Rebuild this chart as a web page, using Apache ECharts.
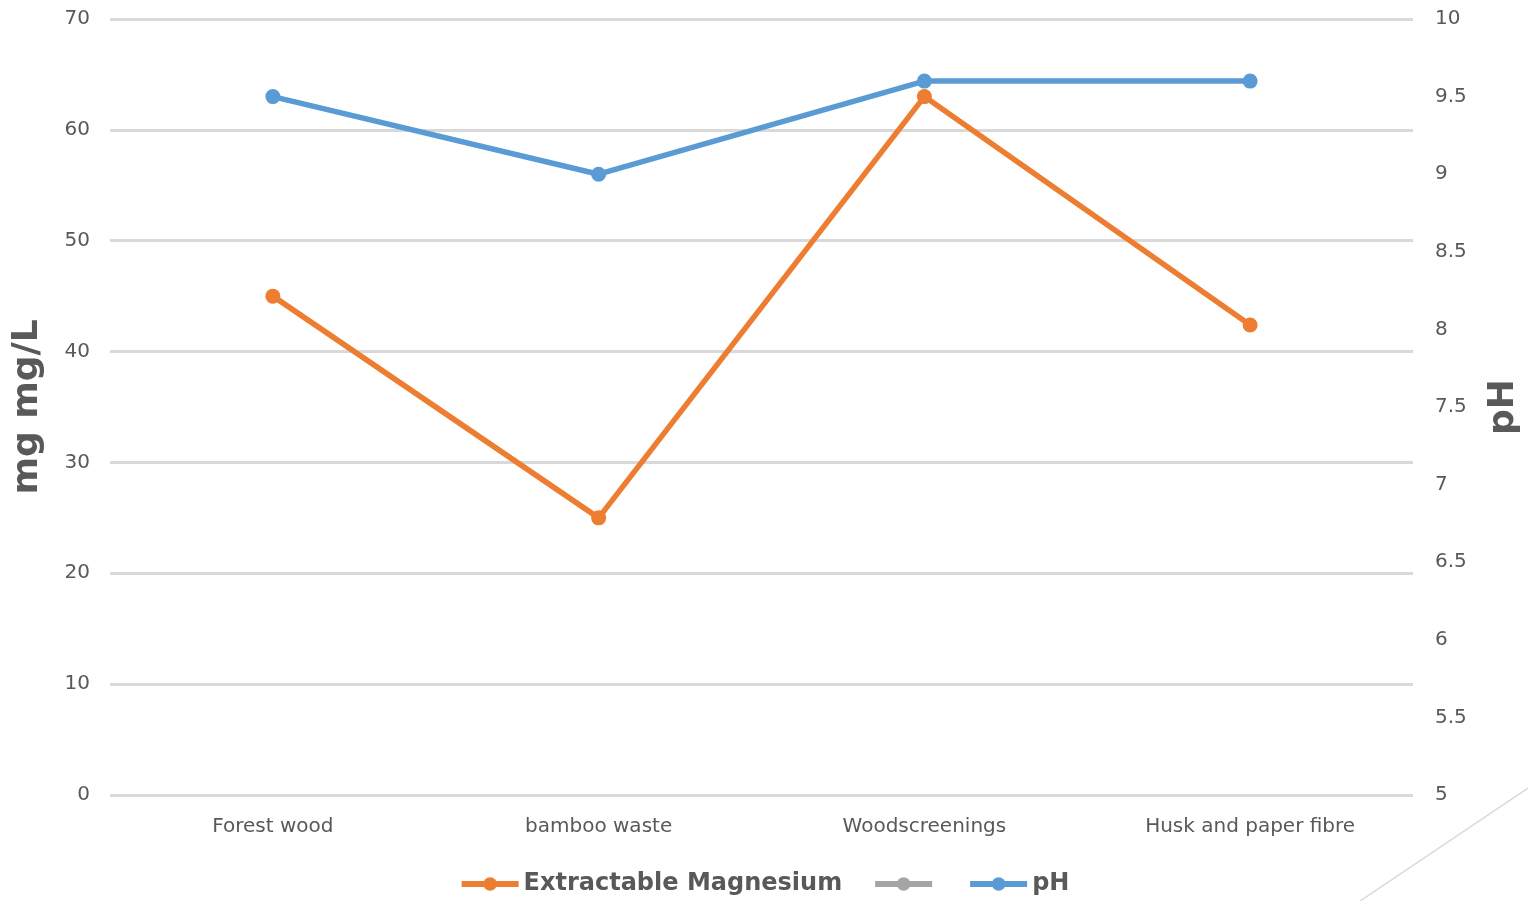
<!DOCTYPE html>
<html>
<head>
<meta charset="utf-8">
<title>Extractable Magnesium and pH</title>
<script src="https://cdn.jsdelivr.net/npm/echarts@6/dist/echarts.min.js"></script>
<style>
  html, body { margin: 0; padding: 0; background: #ffffff; }
  #chart { width: 1528px; height: 901px; }
</style>
</head>
<body>
<div id="chart"></div>
<script>
// Substrates sampled
const categories = ['Forest wood', 'bamboo waste', 'Woodscreenings', 'Husk and paper fibre'];

// Extractable magnesium, mg/L (left axis)
const magnesium = [45, 25, 63, 42.4];

// Unnamed helper series (no values plotted, legend entry only)
const unnamed = [null, null, null, null];

// pH (right axis)
const ph = [9.5, 9.0, 9.6, 9.6];

const FONT = 'DejaVu Sans';
const TEXT = '#595959';

const chart = echarts.init(document.getElementById('chart'), null, { renderer: 'canvas' });

function lineSeries(name, data, color, yAxisIndex) {
  return {
    name: name,
    type: 'line',
    yAxisIndex: yAxisIndex,
    data: data,
    symbol: 'circle',
    symbolSize: 15,
    showSymbol: true,
    connectNulls: false,
    lineStyle: { color: color, width: 5.5 },
    itemStyle: { color: color },
    emphasis: { disabled: true },
    z: yAxisIndex === 1 ? 3 : 2
  };
}

chart.setOption({
  animation: false,
  backgroundColor: '#ffffff',
  textStyle: { fontFamily: FONT },
  grid: { left: 110, right: 115, top: 19, bottom: 106, containLabel: false, outerBoundsMode: 'none' },
  legend: {
    left: 'center',
    top: 867,
    itemWidth: 57,
    itemHeight: 17,
    itemGap: 30,
    lineStyle: { width: 6 },
    textStyle: { fontFamily: FONT, fontSize: 24, fontWeight: 'bold', color: TEXT },
    data: ['Extractable Magnesium', '\u200B', 'pH']
  },
  xAxis: {
    type: 'category',
    data: categories,
    boundaryGap: true,
    axisLine: { show: false },
    axisTick: { show: false },
    axisLabel: { fontFamily: FONT, fontSize: 20, color: TEXT, margin: 22 }
  },
  yAxis: [
    {
      type: 'value',
      min: 0,
      max: 70,
      interval: 10,
      name: 'mg mg/L',
      nameLocation: 'middle',
      nameRotate: 90,
      nameGap: 64,
      nameTextStyle: { fontFamily: FONT, fontSize: 36, fontWeight: 'bold', color: TEXT },
      axisLine: { show: false },
      axisTick: { show: false },
      axisLabel: { fontFamily: FONT, fontSize: 20, color: TEXT, margin: 20 },
      splitLine: { show: true, lineStyle: { color: '#d9d9d9', width: 3 } }
    },
    {
      type: 'value',
      min: 5,
      max: 10,
      interval: 0.5,
      position: 'right',
      name: 'pH',
      nameLocation: 'middle',
      nameRotate: 90,
      nameGap: 73,
      nameTextStyle: { fontFamily: FONT, fontSize: 36, fontWeight: 'bold', color: TEXT },
      axisLine: { show: false },
      axisTick: { show: false },
      axisLabel: { fontFamily: FONT, fontSize: 20, color: TEXT, margin: 22 },
      splitLine: { show: false }
    }
  ],
  series: [
    lineSeries('Extractable Magnesium', magnesium, '#ED7D31', 0),
    lineSeries('\u200B', unnamed, '#A5A5A5', 0),
    lineSeries('pH', ph, '#5B9BD5', 1)
  ],
  graphic: [
    {
      type: 'line',
      shape: { x1: 1360, y1: 901, x2: 1528, y2: 788 },
      style: { stroke: '#d9d9d9', lineWidth: 1.5 },
      silent: true
    }
  ]
});
</script>
</body>
</html>
